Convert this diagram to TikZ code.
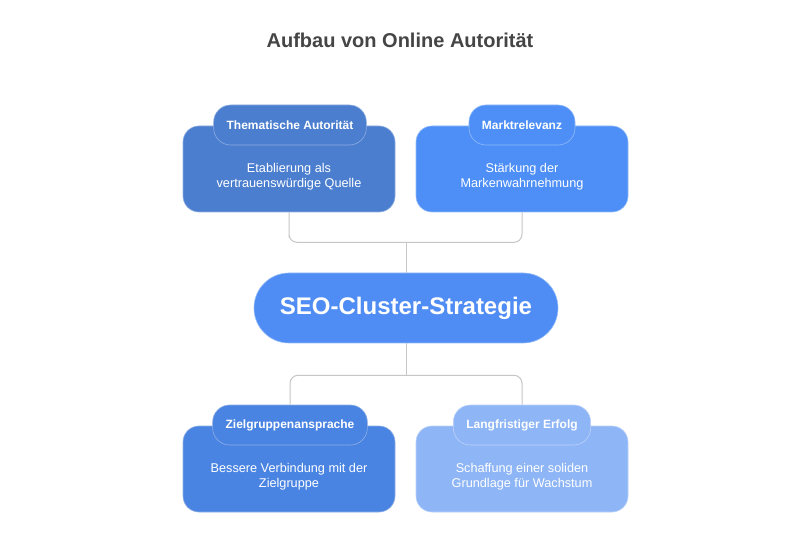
\documentclass[tikz,border=0pt]{standalone}
\usepackage{fontspec}
\setmainfont{Liberation Sans}
\usepackage{xcolor}
\usepackage{tikz}
\usetikzlibrary{calc}
\definecolor{bg}{HTML}{FFFFFF}
\definecolor{titlegray}{HTML}{454545}
\definecolor{wiregray}{HTML}{C6C6C6}
\definecolor{blueA}{HTML}{4B7ECF}
\definecolor{blueB}{HTML}{4D8FF6}
\definecolor{blueC}{HTML}{4F8CF4}
\definecolor{blueD}{HTML}{4A84E2}
\definecolor{blueE}{HTML}{8EB5F6}
\definecolor{rimA}{HTML}{8FAEE2}
\definecolor{rimB}{HTML}{93BBF9}
\definecolor{rimE}{HTML}{BCD2FA}
\tikzset{
  wire/.style={draw=wiregray, line width=1pt, rounded corners=8pt},
  card/.style={rounded corners=16pt, minimum width=212pt, minimum height=86pt, line width=0.6pt, inner sep=0pt},
  tab/.style={rounded corners=17pt, minimum height=40pt, inner xsep=13pt, line width=0.6pt, text=white, font=\fontsize{12}{14}\selectfont\bfseries},
  body/.style={text=white, align=center, font=\fontsize{12.7}{15}\selectfont},
  hubbox/.style={rounded corners=35pt, minimum width=304pt, minimum height=70pt, fill=blueC, draw=rimB, line width=0.6pt, text=white, font=\fontsize{24}{28}\selectfont\bfseries},
  heading/.style={text=titlegray, font=\fontsize{20}{24}\selectfont\bfseries},
}
\begin{document}
\begin{tikzpicture}[x=1pt,y=1pt]
  \useasboundingbox[fill=bg] (0,0) rectangle (800,533);

  \node[heading] (title) at (400,493) {Aufbau von Online Autorität};

  \node[card,fill=blueA,draw=rimA] (tlbox) at (289,364) {};
  \node[card,fill=blueB,draw=rimB] (trbox) at (522,364) {};
  \node[hubbox] (hub) at (406,225) {SEO-Cluster-Strategie};
  \node[card,fill=blueD,draw=rimA] (blbox) at (289,64) {};
  \node[card,fill=blueE,draw=rimE] (brbox) at (522,64) {};

  \coordinate (topjoin) at ($(tlbox.south)+(0,-30)$);
  \coordinate (botjoin) at ($(hub.south)+(0,-32)$);

  \node[tab,fill=blueA,draw=rimA] (tltab) at (290,408) {Thematische Autorität};
  \node[tab,fill=blueB,draw=rimB] (trtab) at (522,408) {Marktrelevanz};
  \node[tab,fill=blueD,draw=rimA] (bltab) at (290,108) {Zielgruppenansprache};
  \node[tab,fill=blueE,draw=rimE] (brtab) at (522,108) {Langfristiger Erfolg};

  \draw[wire] (tlbox.south) |- (topjoin) -| (trbox.south);
  \draw[wire] (hub.north) -- (hub.north |- topjoin);
  \draw[wire] (bltab.north) |- (botjoin) -| (brtab.north);
  \draw[wire] (hub.south) -- (botjoin);

  \node[body] (tltext) at ($(tlbox.center)+(0,-8)$) {Etablierung als\\vertrauenswürdige Quelle};
  \node[body] (trtext) at ($(trbox.center)+(0,-8)$) {Stärkung der\\Markenwahrnehmung};
  \node[body] (bltext) at ($(blbox.center)+(0,-8)$) {Bessere Verbindung mit der\\Zielgruppe};
  \node[body] (brtext) at ($(brbox.center)+(0,-8)$) {Schaffung einer soliden\\Grundlage für Wachstum};
\end{tikzpicture}
\end{document}
